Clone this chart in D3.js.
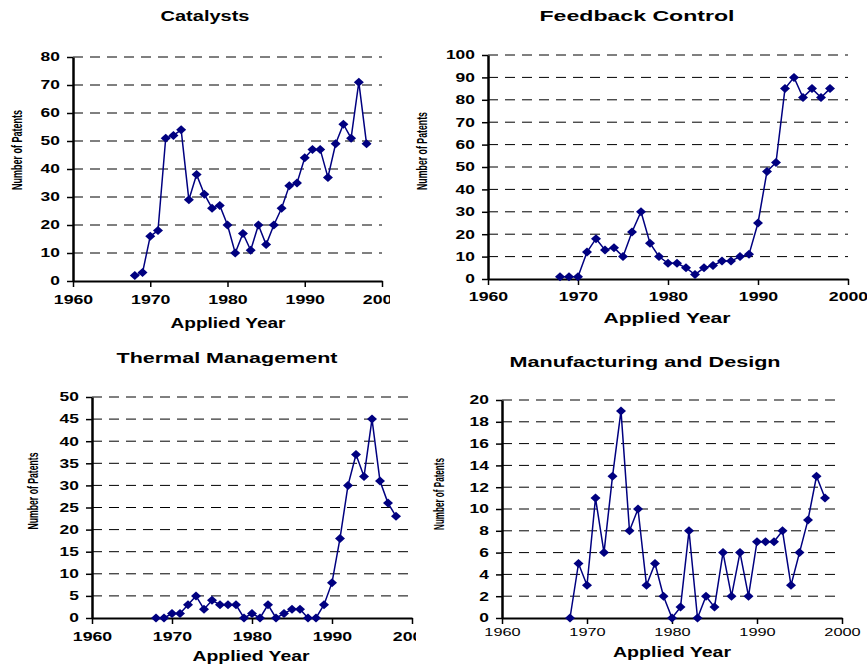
<!DOCTYPE html>
<html>
<head>
<meta charset="utf-8">
<script src="https://cdn.jsdelivr.net/npm/d3@7"></script>
<style>
  body { margin: 0; background: #fff; }
  text { font-family: "Liberation Sans", Arial, sans-serif; }
</style>
</head>
<body>
<div class="canvas"></div>
<script>
// data
const years = [1968, 1969, 1970, 1971, 1972, 1973, 1974, 1975, 1976, 1977, 1978,
  1979, 1980, 1981, 1982, 1983, 1984, 1985, 1986, 1987, 1988, 1989, 1990,
  1991, 1992, 1993, 1994, 1995, 1996, 1997, 1998];

const catalysts = [2, 3, 16, 18, 51, 52, 54, 29, 38, 31, 26, 27, 20, 10, 17, 11,
  20, 13, 20, 26, 34, 35, 44, 47, 47, 37, 49, 56, 51, 71, 49];
const feedbackControl = [1, 1, 1, 12, 18, 13, 14, 10, 21, 30, 16, 10, 7, 7, 5, 2,
  5, 6, 8, 8, 10, 11, 25, 48, 52, 85, 90, 81, 85, 81, 85];
const thermalManagement = [0, 0, 1, 1, 3, 5, 2, 4, 3, 3, 3, 0, 1, 0, 3, 0,
  1, 2, 2, 0, 0, 3, 8, 18, 30, 37, 32, 45, 31, 26, 23];
const manufacturingDesign = [0, 5, 3, 11, 6, 13, 19, 8, 10, 3, 5, 2, 0, 1, 8, 0,
  2, 1, 6, 2, 6, 2, 7, 7, 7, 8, 3, 6, 9, 13, 11];

const yearTicks = [1960, 1970, 1980, 1990, 2000];
const catalystTicks = [0, 10, 20, 30, 40, 50, 60, 70, 80];
const feedbackTicks = [0, 10, 20, 30, 40, 50, 60, 70, 80, 90, 100];
const thermalTicks = [0, 5, 10, 15, 20, 25, 30, 35, 40, 45, 50];
const manufacturingTicks = [0, 2, 4, 6, 8, 10, 12, 14, 16, 18, 20];

const titles = ['Catalysts', 'Feedback Control', 'Thermal Management', 'Manufacturing and Design'];
const xTitle = 'Applied Year';
const yTitle = 'Number of Patents';

// layout of each panel (the source picture is stretched sideways)
const panels = [
  { title: titles[0], values: catalysts, ticks: catalystTicks,
    left: 73, right: 382, top: 57, bottom: 281, clip: 390,
    titleX: 205, titleY: 21, titleLen: 89,
    xtX: 228, xtY: 328, xtLen: 115,
    ytX: 17, ytY: 150, ytLen: 80, pad: 8, boldX: true },
  { title: titles[1], values: feedbackControl, ticks: feedbackTicks,
    left: 488, right: 848, top: 55, bottom: 279, clip: null,
    titleX: 637, titleY: 21, titleLen: 195,
    xtX: 667, xtY: 323, xtLen: 127,
    ytX: 422, ytY: 151, ytLen: 78, pad: 7, boldX: true },
  { title: titles[2], values: thermalManagement, ticks: thermalTicks,
    left: 92, right: 412, top: 397, bottom: 618, clip: 416,
    titleX: 227, titleY: 363, titleLen: 221,
    xtX: 251, xtY: 661, xtLen: 117,
    ytX: 33, ytY: 491, ytLen: 77, pad: 8, boldX: true },
  { title: titles[3], values: manufacturingDesign, ticks: manufacturingTicks,
    left: 502, right: 842, top: 400, bottom: 618, clip: null,
    titleX: 645, titleY: 367, titleLen: 271,
    xtX: 672, xtY: 657, xtLen: 118,
    ytX: 439, ytY: 494, ytLen: 72, pad: 4, boldX: false }
];

const navy = '#000080';
const font = '"Liberation Sans", Arial, sans-serif';

const svg = d3.select('.canvas')
  .append('svg')
  .attr('width', 867)
  .attr('height', 666);

const defs = svg.append('defs');

// flat diamond marker
const diamond = {
  draw(ctx, r) {
    ctx.moveTo(0, -r * 0.9);
    ctx.lineTo(r, 0);
    ctx.lineTo(0, r * 0.9);
    ctx.lineTo(-r, 0);
    ctx.closePath();
  }
};
const marker = d3.symbol(diamond, 5);

panels.forEach((p, k) => {
  const g = svg.append('g');
  if (p.clip) {
    defs.append('clipPath').attr('id', 'clip' + k)
      .append('rect').attr('x', 0).attr('y', 0).attr('width', p.clip).attr('height', 666);
    g.attr('clip-path', `url(#clip${k})`);
  }

  const x = d3.scaleLinear().domain([1960, 2000]).range([p.left, p.right]);
  const y = d3.scaleLinear().domain([0, d3.max(p.ticks)]).range([p.bottom, p.top]);

  // dashed grid
  g.append('g').selectAll('line')
    .data(p.ticks.filter(d => d > 0))
    .join('line')
      .attr('x1', p.left).attr('x2', p.right)
      .attr('y1', d => y(d)).attr('y2', d => y(d))
      .attr('stroke', '#000')
      .attr('stroke-dasharray', '10,7');

  // y axis
  const ya = g.append('g')
    .attr('transform', `translate(${p.left},0)`)
    .call(d3.axisLeft(y).tickValues(p.ticks).tickSize(6).tickSizeOuter(0).tickPadding(3));
  ya.select('.domain').attr('stroke', '#000').attr('stroke-width', 2.5);
  ya.selectAll('.tick line').attr('stroke', '#000').attr('stroke-width', 1.5);
  ya.selectAll('.tick text')
    .attr('font-family', font).attr('font-size', 12).attr('font-weight', 'bold')
    .attr('fill', '#000').attr('transform', 'scale(1.45,1)');

  // x axis
  const xa = g.append('g')
    .attr('transform', `translate(0,${p.bottom})`)
    .call(d3.axisBottom(x).tickValues(yearTicks).tickFormat(d3.format('d'))
      .tickSize(6).tickSizeOuter(0).tickPadding(p.pad));
  xa.select('.domain').attr('stroke', '#000').attr('stroke-width', 2);
  xa.selectAll('.tick line').attr('stroke', '#000').attr('stroke-width', 1.5);
  xa.selectAll('.tick text')
    .attr('font-family', font)
    .attr('font-size', p.boldX ? 12.5 : 11.5)
    .attr('font-weight', p.boldX ? 'bold' : 'normal')
    .attr('fill', '#000').attr('transform', 'scale(1.42,1)');

  // series
  const line = d3.line().x((d, i) => x(years[i])).y(d => y(d));
  g.append('path')
    .datum(p.values)
    .attr('d', line)
    .attr('fill', 'none')
    .attr('stroke', navy)
    .attr('stroke-width', 1.5);

  g.append('g').selectAll('path')
    .data(p.values)
    .join('path')
      .attr('d', marker)
      .attr('transform', (d, i) => `translate(${x(years[i])},${y(d)})`)
      .attr('fill', navy);

  // titles
  g.append('text')
    .attr('x', p.titleX).attr('y', p.titleY)
    .attr('text-anchor', 'middle')
    .attr('font-size', 15).attr('font-weight', 'bold')
    .attr('textLength', p.titleLen).attr('lengthAdjust', 'spacingAndGlyphs')
    .text(p.title);

  g.append('text')
    .attr('x', p.xtX).attr('y', p.xtY)
    .attr('text-anchor', 'middle')
    .attr('font-size', 14).attr('font-weight', 'bold')
    .attr('textLength', p.xtLen).attr('lengthAdjust', 'spacingAndGlyphs')
    .text(xTitle);

  // squeezed vertical label: measure, then scale along its length
  const yt = g.append('text')
    .attr('text-anchor', 'middle')
    .attr('dy', '0.36em')
    .attr('font-size', 14).attr('font-weight', 'bold')
    .text(yTitle);
  const natural = yt.node().getComputedTextLength();
  yt.attr('transform',
    `translate(${p.ytX},${p.ytY}) rotate(-90) scale(${p.ytLen / natural},1)`);
});
</script>
</body>
</html>
